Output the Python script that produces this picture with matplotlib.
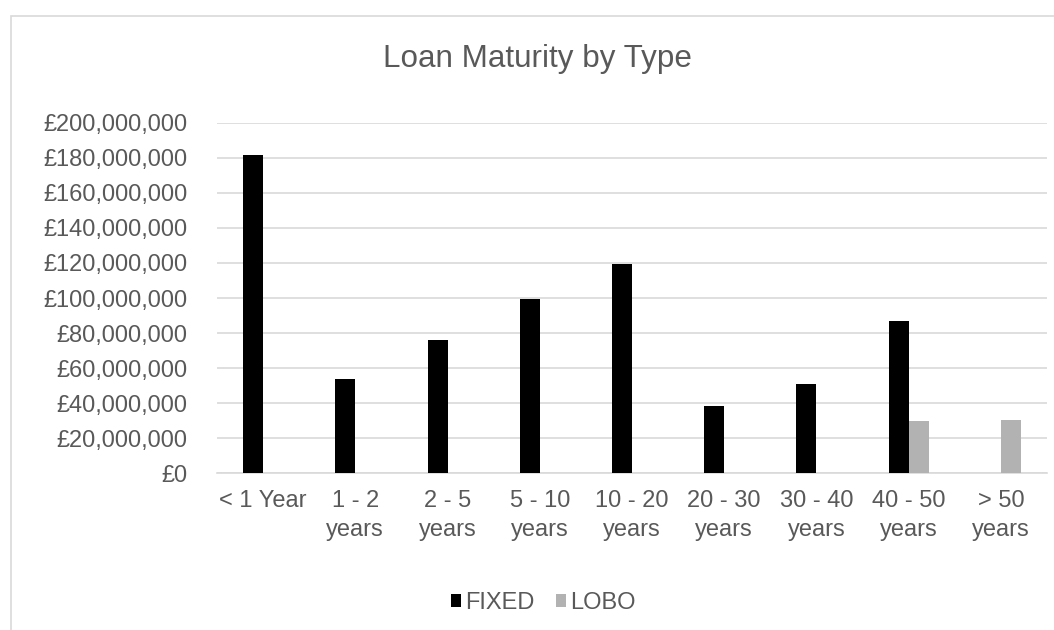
import matplotlib
matplotlib.use('Agg')
from matplotlib import pyplot as plt
from matplotlib.patches import Rectangle
import numpy as np

plt.rcParams['font.family'] = ['Liberation Sans', 'DejaVu Sans']

categories = ['< 1 Year', '1 - 2\nyears', '2 - 5\nyears', '5 - 10\nyears', '10 - 20\nyears',
              '20 - 30\nyears', '30 - 40\nyears', '40 - 50\nyears', '> 50\nyears']
fixed = [181.4e6, 53.6e6, 76.0e6, 99.5e6, 119.2e6, 38.4e6, 50.9e6, 86.8e6, 0]
lobo = [0, 0, 0, 0, 0, 0, 0, 29.6e6, 30.2e6]
yticks = np.arange(0, 200e6 + 1, 20e6)

txt = '#595959'
grid = '#D9D9D9'

fig = plt.figure(figsize=(10.54, 6.3), dpi=100)
ax = fig.add_axes([217/1054, 1-473.3/630, 830/1054, (473.3-122.7)/630])

x = np.arange(len(categories))
w = 0.217
ax.bar(x - w/2, fixed, w, color='black', label='FIXED', zorder=3)
ax.bar(x + w/2, lobo, w, color='#B2B2B2', label='LOBO', zorder=3)

ax.set_xlim(-0.5, len(categories) - 0.5)
ax.set_ylim(0, 200e6)
ax.set_yticks(yticks)
ax.set_yticklabels(['£{:,.0f}'.format(v) for v in yticks])
ax.set_xticks(x)
ax.set_xticklabels(categories, linespacing=1.4)
ax.tick_params(axis='y', length=0, pad=21, labelsize=17, labelcolor=txt)
ax.tick_params(axis='x', length=0, pad=12, labelsize=17, labelcolor=txt)
ax.grid(axis='y', color=grid, lw=1.2, zorder=0)
for s in ['top', 'right', 'left']:
    ax.spines[s].set_visible(False)
ax.spines['bottom'].set_color(grid)
ax.spines['bottom'].set_linewidth(1.2)

fig.text(537/1054, 1-67/630, 'Loan Maturity by Type', ha='center', va='baseline',
         fontsize=22.6, color=txt)

fig.legend(loc='center', bbox_to_anchor=(543/1054, 1-603/630), ncol=2, frameon=False,
           fontsize=17, labelcolor=txt, handlelength=0.45, handleheight=0.45,
           handletextpad=0.15, columnspacing=0.9)

fig.patches.append(Rectangle((10.5/1054, -0.5), 2, 0.5 + 1-15.5/630, transform=fig.transFigure,
                             fill=False, edgecolor=grid, lw=1.2))

fig.savefig('out.png', dpi=100)
